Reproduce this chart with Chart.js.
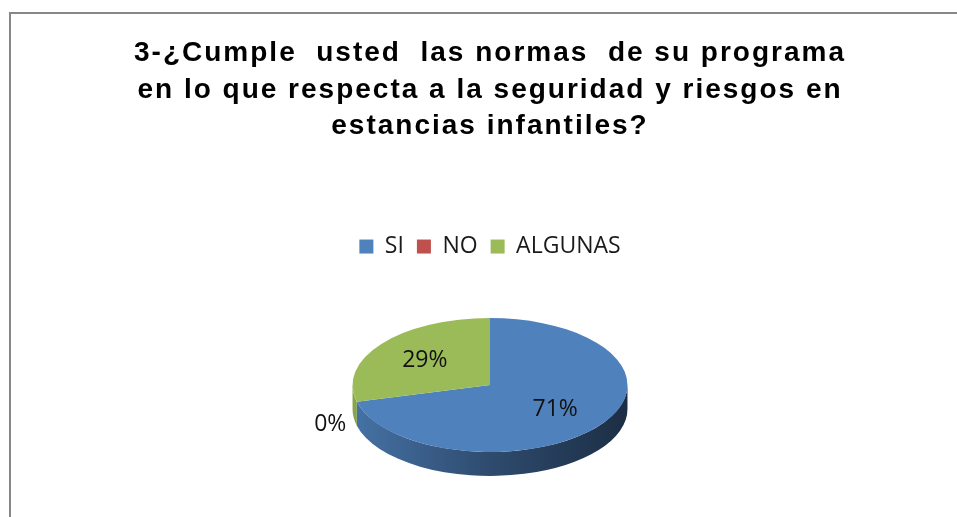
<!DOCTYPE html>
<html>
<head>
<meta charset="utf-8">
<script src="https://cdn.jsdelivr.net/npm/chart.js@4.4.0/dist/chart.umd.min.js"></script>
<style>
  html, body { margin: 0; padding: 0; background: #fff; overflow: hidden; }
  #frame { position: absolute; left: 9px; top: 12px; border: 2px solid #878787; width: 958px; height: 560px; }
  canvas { display: block; }
</style>
</head>
<body>
<div id="frame"><canvas id="chart" width="958" height="560" style="width:958px;height:560px"></canvas></div>
<script>
const titleLines = [
  '3-¿Cumple  usted  las normas  de su programa',
  'en lo que respecta a la seguridad y riesgos en',
  'estancias infantiles?'
];
const categories = ['SI', 'NO', 'ALGUNAS'];
const percents = [71, 0, 29];
const colors = ['#4F81BD', '#C0504D', '#9BBB59'];

// look of the 3d pie
const tilt = 0.487;
const depth = 24;
const topCenterY = 371;

function shade(hex, f) {
  const n = parseInt(hex.slice(1), 16);
  const r = Math.round(((n >> 16) & 255) * f);
  const g = Math.round(((n >> 8) & 255) * f);
  const b = Math.round((n & 255) * f);
  return 'rgb(' + r + ',' + g + ',' + b + ')';
}

// wider letter spacing for the title only
const titleSpacing = {
  id: 'titleSpacing',
  beforeDraw(chart) {
    const block = chart.titleBlock;
    if (!block || block._spaced) return;
    const draw = block.draw.bind(block);
    block.draw = function (area) {
      chart.ctx.save();
      chart.ctx.letterSpacing = '2px';
      draw(area);
      chart.ctx.restore();
    };
    block._spaced = true;
  }
};

// draws the sides, squashes the pie into an ellipse and writes the labels
const pie3d = {
  id: 'pie3d',
  beforeDatasetsDraw(chart) {
    const ctx = chart.ctx;
    const arcs = chart.getDatasetMeta(0).data;
    arcs.forEach((arc, i) => {
      const p = arc.getProps(['x', 'startAngle', 'endAngle', 'outerRadius'], true);
      const a1 = Math.max(p.startAngle, 0);
      const a2 = Math.min(p.endAngle, Math.PI);
      if (a2 <= a1) return;
      const grad = ctx.createLinearGradient(p.x - p.outerRadius, 0, p.x + p.outerRadius, 0);
      grad.addColorStop(0, shade(colors[i], 0.88));
      grad.addColorStop(0.5, shade(colors[i], 0.58));
      grad.addColorStop(1, shade(colors[i], 0.36));
      ctx.beginPath();
      ctx.ellipse(p.x, topCenterY, p.outerRadius, p.outerRadius * tilt, 0, a1, a2, false);
      ctx.ellipse(p.x, topCenterY + depth, p.outerRadius, p.outerRadius * tilt, 0, a2, a1, true);
      ctx.closePath();
      ctx.fillStyle = grad;
      ctx.fill();
    });
    const cy = arcs[0].getProps(['y'], true).y;
    ctx.save();
    ctx.translate(0, topCenterY - cy * tilt);
    ctx.scale(1, tilt);
  },
  afterDatasetsDraw(chart) {
    const ctx = chart.ctx;
    ctx.restore();
    const arcs = chart.getDatasetMeta(0).data;
    ctx.save();
    ctx.font = '23px "Open Sans"';
    ctx.fillStyle = '#111';
    ctx.textAlign = 'center';
    ctx.textBaseline = 'middle';
    arcs.forEach((arc, i) => {
      const p = arc.getProps(['x', 'startAngle', 'endAngle', 'outerRadius'], true);
      const mid = (p.startAngle + p.endAngle) / 2;
      const inside = percents[i] > 0;
      const f = inside ? 0.6 : 1.2;
      const lx = p.x + Math.cos(mid) * p.outerRadius * f;
      const ly = topCenterY + Math.sin(mid) * p.outerRadius * tilt * f + (inside ? 0 : depth * 0.8);
      ctx.fillText(percents[i] + '%', lx, ly);
    });
    ctx.restore();
  }
};

new Chart(document.getElementById('chart').getContext('2d'), {
  type: 'pie',
  data: {
    labels: categories,
    datasets: [{
      data: percents,
      backgroundColor: colors,
      borderWidth: 0
    }]
  },
  options: {
    responsive: false,
    animation: false,
    devicePixelRatio: 1,
    layout: { padding: { bottom: 31 } },
    plugins: {
      title: {
        display: true,
        text: titleLines,
        color: '#000',
        font: { family: 'Liberation Sans', size: 28, weight: 'bold', lineHeight: 1.31 },
        padding: { top: 21, bottom: 77 }
      },
      legend: {
        position: 'top',
        labels: {
          boxWidth: 14,
          boxHeight: 14,
          padding: 13,
          color: '#1a1a1a',
          font: { family: 'Open Sans', size: 23 }
        }
      },
      tooltip: { enabled: false }
    }
  },
  plugins: [titleSpacing, pie3d]
});
</script>
</body>
</html>
